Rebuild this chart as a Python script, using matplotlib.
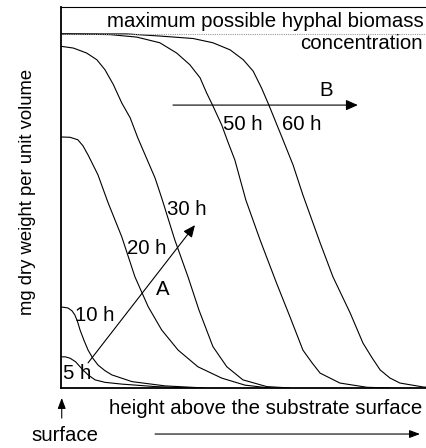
import matplotlib
matplotlib.use("Agg")
import matplotlib.pyplot as plt

plt.rcParams['font.family'] = ['Liberation Sans', 'DejaVu Sans']

# height above surface (0-100, arbitrary) and biomass as fraction of the maximum
h5 = [0, 1.2, 2.5, 4.0, 5.2, 6.3, 7.4, 9.3, 12.0, 16.6, 25.7, 34.7]
c5 = [0.088, 0.088, 0.084, 0.074, 0.060, 0.048, 0.037, 0.023, 0.016, 0.011, 0.004, 0.0]

h10 = [0, 1.9, 3.0, 3.8, 4.5, 5.2, 6.3, 7.4, 8.7, 10.1, 12.0, 13.9, 19.4, 28.4, 39.3]
c10 = [0.229, 0.226, 0.218, 0.206, 0.188, 0.164, 0.134, 0.107, 0.084, 0.065, 0.049, 0.037, 0.018, 0.006, 0.0]

h20 = [0, 2.5, 4.6, 6.0, 7.4, 10.1, 12.8, 16.6, 20.2, 23.8, 27.5, 32.0, 37.4, 43.9, 50.3, 57.1]
c20 = [0.709, 0.708, 0.701, 0.684, 0.658, 0.602, 0.525, 0.427, 0.314, 0.230, 0.164, 0.107, 0.060, 0.028, 0.008, 0.0]

h30 = [0, 3.4, 7.0, 9.8, 12.0, 14.3, 16.6, 18.9, 21.0, 25.7, 27.5, 31.1, 34.7, 37.7, 41.5, 45.3, 49.7, 56.2, 62.6]
c30 = [0.965, 0.960, 0.946, 0.927, 0.899, 0.857, 0.805, 0.763, 0.706, 0.593, 0.537, 0.418, 0.314, 0.220,
       0.117, 0.060, 0.023, 0.004, 0.0]

h50 = [0, 1.6, 13.4, 20.7, 27.0, 31.6, 35.2, 38.0, 39.8, 41.4, 43.9, 45.6, 47.5, 50.5, 54.4, 58.9, 62.6,
       66.1, 68.6, 70.8, 76.2, 83.6, 89.9]
c50 = [1.0, 1.0, 0.998, 0.991, 0.975, 0.946, 0.913, 0.876, 0.833, 0.799, 0.743, 0.695, 0.644, 0.531, 0.418,
       0.296, 0.200, 0.107, 0.071, 0.042, 0.014, 0.002, 0.0]

h60 = [0, 17.9, 27.0, 36.1, 41.5, 46.2, 49.8, 52.5, 54.8, 56.8, 60.1, 63.4, 66.1, 70.8, 74.3, 79.0, 82.5,
       85.0, 87.2, 89.9, 92.6, 98.9, 100]
c60 = [1.0, 1.0, 0.994, 0.987, 0.975, 0.955, 0.927, 0.895, 0.847, 0.799, 0.715, 0.630, 0.545, 0.410, 0.314,
       0.212, 0.127, 0.085, 0.051, 0.028, 0.014, 0.003, 0.002]

curves = [(h5, c5), (h10, c10), (h20, c20), (h30, c30), (h50, c50), (h60, c60)]
labels = ["5 h", "10 h", "20 h", "30 h", "50 h", "60 h"]
label_pos = [(4.3, 0.042), (9.3, 0.206), (23.5, 0.393), (34.3, 0.503), (49.7, 0.743), (65.8, 0.743)]

fs = 14.7

fig = plt.figure(figsize=(4.27, 4.48), dpi=100)
ax = fig.add_axes([61 / 427, 1 - 388 / 448, 366 / 427, 381 / 448])

for h, c in curves:
    ax.plot(h, c, color='black', lw=0.8, solid_joinstyle='round', solid_capstyle='round')

ax.axhline(1.0, color='#999999', lw=0.8, ls=(0, (1, 1)))

for lab, (x, y) in zip(labels, label_pos):
    ax.text(x, y, lab, fontsize=fs, ha='center', va='center')

arrow = dict(arrowstyle='-|>,head_length=0.45,head_width=0.2', mutation_scale=16, lw=0.8,
             color='black', shrinkA=0, shrinkB=0)
small = dict(arrowstyle='-|>,head_length=0.4,head_width=0.15', mutation_scale=16, lw=0.8,
             color='black', shrinkA=0, shrinkB=0)
ax.annotate('', xy=(36.6, 0.460), xytext=(7.4, 0.071), arrowprops=arrow)
ax.text(27.9, 0.277, 'A', fontsize=fs, ha='center', va='center')
ax.annotate('', xy=(81.1, 0.799), xytext=(30.6, 0.799), arrowprops=arrow)
ax.text(72.4, 0.840, 'B', fontsize=fs, ha='center', va='center')

ax.text(99, 1.035, 'maximum possible hyphal biomass', fontsize=fs, ha='right', va='center')
ax.text(98.8, 0.972, 'concentration', fontsize=fs, ha='right', va='center')

# stuff below the axes
ax.annotate('', xy=(98.1, -0.130), xytext=(25.7, -0.130), arrowprops=small, annotation_clip=False)
ax.annotate('', xy=(0.2, -0.028), xytext=(0.2, -0.085), arrowprops=small, annotation_clip=False)
ax.text(56.0, -0.059, 'height above the substrate surface', fontsize=fs, ha='center', va='center')
ax.text(0.96, -0.133, 'surface', fontsize=fs, ha='center', va='center')
fig.text(28 / 427, 1 - 191.5 / 448, 'mg dry weight per unit volume', fontsize=13.3,
         rotation=90, ha='center', va='center')

ax.set_xlim(0, 100)
ax.set_ylim(0, 1.076)
ax.set_xticks([])
ax.set_yticks([])
ax.spines['right'].set_visible(False)
ax.spines['left'].set_linewidth(1.3)
ax.spines['bottom'].set_linewidth(1.3)
ax.spines['top'].set_linewidth(0.8)

fig.savefig('out.png', dpi=100)
